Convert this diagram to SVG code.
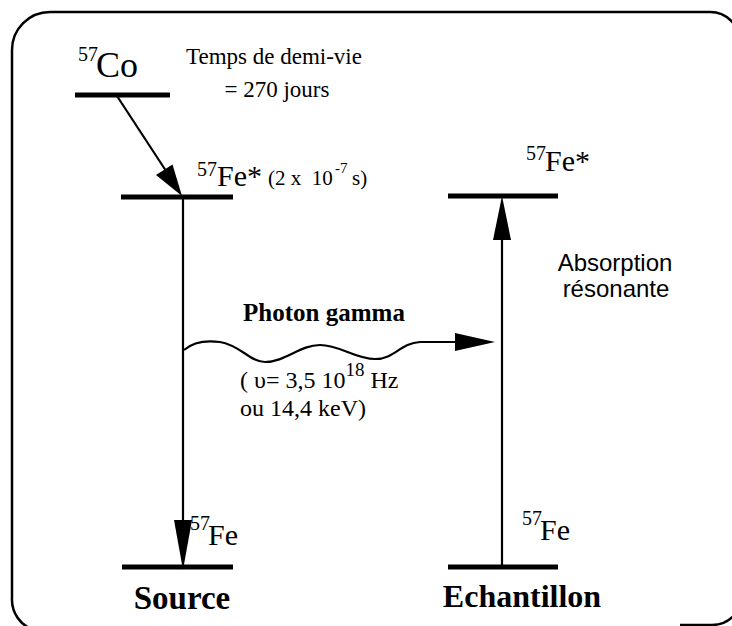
<svg xmlns="http://www.w3.org/2000/svg" width="732" height="626" viewBox="0 0 732 626">
<style>
.frame{fill:none;stroke:#000;stroke-width:2.5}
.lvl{stroke:#000;stroke-width:5;fill:none}
.ln{stroke:#000;stroke-width:2.2;fill:none}
.head{fill:#000;stroke:none}
.t{font-family:"Liberation Serif","Times New Roman",serif;fill:#000}
.s{font-family:"Liberation Sans",Arial,sans-serif;fill:#000}
.b{font-weight:bold}
</style>
<rect width="732" height="626" fill="#fff"/>
<g id="frame">
<path class="frame" d="M34,630 A32,32 0 0 1 12,598 L12,50 A38,38 0 0 1 50,12 L710,12 A30,30 0 0 1 740,42"/>
<path class="frame" d="M742,595 A30,30 0 0 1 712,625 L680,625"/>
</g>
<g id="co57">
<line class="lvl" x1="75" y1="95" x2="170" y2="95"/>
<text class="t" x="78" y="61" font-size="20">57</text>
<text class="t" x="96" y="77" font-size="36">Co</text>
</g>
<g id="halflife">
<text class="t" x="274" y="64" font-size="23" text-anchor="middle">Temps de demi-vie</text>
<text class="t" x="277" y="97" font-size="23" text-anchor="middle">= 270 jours</text>
</g>
<g id="fe57star-source">
<line class="lvl" x1="121" y1="197" x2="233" y2="197"/>
<text class="t" x="197" y="176" font-size="20">57</text>
<text class="t" x="217" y="186" font-size="30">Fe*</text>
<text class="t" x="268" y="185" font-size="21" xml:space="preserve">(2 x  10</text>
<text class="t" x="335" y="173" font-size="15">-7</text>
<text class="t" x="352" y="185" font-size="21">s)</text>
</g>
<g id="fe57-source">
<line class="lvl" x1="122" y1="567" x2="233" y2="567"/>
<text class="t" x="190" y="530" font-size="20">57</text>
<text class="t" x="208" y="545" font-size="30">Fe</text>
<text class="t b" x="182" y="609" font-size="33" text-anchor="middle">Source</text>
</g>
<g id="fe57star-sample">
<line class="lvl" x1="448" y1="196" x2="558" y2="196"/>
<text class="t" x="526" y="160" font-size="20">57</text>
<text class="t" x="545" y="171" font-size="30">Fe*</text>
</g>
<g id="fe57-sample">
<line class="lvl" x1="448" y1="567" x2="558" y2="567"/>
<text class="t" x="522" y="525" font-size="20">57</text>
<text class="t" x="540" y="540" font-size="30">Fe</text>
<text class="t b" x="522" y="607" font-size="32" text-anchor="middle">Echantillon</text>
</g>
<g id="absorption-label">
<text class="s" x="615" y="271" font-size="24" text-anchor="middle">Absorption</text>
<text class="s" x="616" y="297" font-size="24" text-anchor="middle">résonante</text>
</g>
<g id="photon-label">
<text class="t b" x="324" y="321" font-size="25" text-anchor="middle">Photon gamma</text>
<text class="t" x="240" y="388" font-size="24">( υ= 3,5 10<tspan font-size="19" dy="-12">18</tspan><tspan dy="12"> Hz</tspan></text>
<text class="t" x="240" y="416" font-size="24">ou 14,4 keV)</text>
</g>
<g id="connectors">
<line class="ln" x1="117" y1="96" x2="170" y2="177" stroke-width="3"/>
<polygon class="head" points="182,196 172.5,164.5 156,175"/>
<line class="ln" x1="183" y1="197" x2="183" y2="525"/>
<polygon class="head" points="183,570 174,520 192,520"/>
<line class="ln" x1="502" y1="567" x2="502" y2="236"/>
<polygon class="head" points="502,196 493,240 511,240"/>
<path class="ln" d="M184,350 C192,343 205,340 220,342 C240,345 250,362 265,362 C285,362 300,345 320,345 C340,345 355,359 375,359 C395,359 400,343 420,342 L460,342"/>
<polygon class="head" points="455,333 495,342 455,351"/>
</g>
</svg>
